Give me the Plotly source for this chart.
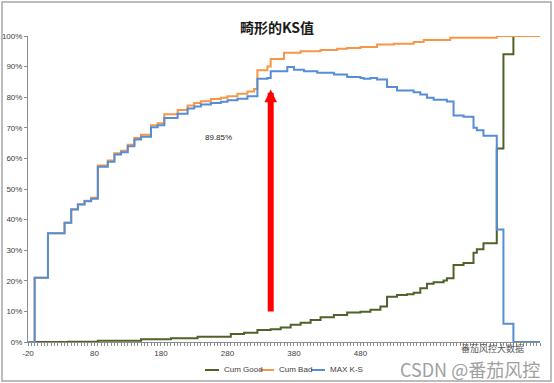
import plotly.graph_objects as go

# ---- data (score bins, cumulative %) ----
good_x = [-20, 40, 85, 150, 195, 235, 285, 305, 325, 345, 360, 375, 390, 405, 420, 440, 460, 480, 495, 510,
          520, 535, 550, 560, 570, 580, 590, 605, 610, 620, 635, 650, 655, 665, 685, 695, 710, 750]
good_y = [0, 0.1, 0.4, 0.9, 1.2, 1.7, 2.6, 3.0, 3.9, 4.2, 4.7, 5.6, 6.3, 7.2, 8.1, 8.8, 9.6, 9.9, 10.5, 11.6,
          14.8, 15.4, 15.6, 16.1, 17.6, 19.0, 19.5, 20.1, 20.8, 25.2, 25.8, 29.2, 30.3, 32.3, 63.2, 94.0, 100, 100]

bad_x = [-20, -10, 10, 35, 45, 55, 65, 75, 85, 100, 110, 120, 130, 140, 150, 165, 175, 185, 205, 220,
         230, 240, 255, 270, 280, 295, 310, 320, 325, 340, 345, 365, 390, 420, 445, 460, 480, 505, 530, 560,
         575, 615, 685, 750]
bad_y = [0, 21, 35.5, 39, 43.4, 45.0, 46.2, 47.1, 57.7, 59.3, 61.7, 62.5, 64.5, 66.7, 67.7, 70.8, 71.5, 74.4, 75.8, 77.3,
         78.1, 78.7, 79.4, 79.8, 80.3, 81.1, 81.9, 82.7, 88.8, 90.0, 92.5, 94.5, 95.0, 95.4, 95.8, 96.1, 96.4, 97.2, 97.5, 98.0,
         98.7, 99.4, 100, 100]

ks_x = [-20, -10, 10, 35, 45, 55, 65, 75, 85, 100, 110, 120, 130, 140, 150, 165, 175, 185, 205, 220,
        230, 240, 255, 270, 280, 295, 310, 325, 340, 345, 370, 380, 395, 415, 440, 460, 480, 485, 495, 505,
        520, 535, 560, 570, 580, 590, 610, 620, 635, 650, 655, 665, 685, 695, 710, 750]
ks_y = [0, 21, 35.5, 39, 43.3, 44.9, 46, 46.8, 57.3, 58.9, 61.3, 62, 64, 66.2, 67.1, 70.2, 70.8, 73.2, 74.6, 76.3,
        77, 77.6, 78.1, 78.5, 79, 79.5, 80.3, 86.0, 86.3, 88.5, 89.85, 89.0, 88.5, 88.0, 87.4, 86.6, 86.3, 86.0, 86.3, 85.8,
        83.3, 82.2, 81.6, 80.9, 79.8, 79.2, 78.6, 74.0, 73.6, 70.0, 69.2, 67.4, 36.8, 6.0, 0, 0]

series_names = ["Cum Good", "Cum Bad", "MAX K-S"]
series_colors = ["#4F6228", "#F79646", "#558ED5"]

x_tick_vals = [-20, 80, 180, 280, 380, 480]
y_tick_vals = [0, 10, 20, 30, 40, 50, 60, 70, 80, 90, 100]

ks_max_label = "89.85%"
ks_label_pos = (266, 66.8)
arrow_x, arrow_tail, arrow_tip = 345, 9.5, 82.5

FONT = "Liberation Sans"
W, H = 554, 383
ML, MR, MT, MB = 28, 14, 36, 41
PW, PH = W - ML - MR, H - MT - MB


def px_x(p):
    return (p - ML) / PW


def px_y(p):
    return (H - MB - p) / PH


fig = go.Figure()
for xs, ys, nm, col in zip([good_x, bad_x, ks_x], [good_y, bad_y, ks_y], series_names, series_colors):
    fig.add_trace(go.Scatter(x=xs, y=ys, mode="lines", name=nm, showlegend=False,
                             line=dict(color=col, width=2, shape="hv")))

fig.add_annotation(x=ks_label_pos[0], y=ks_label_pos[1], text=ks_max_label, showarrow=False,
                   xanchor="center", yanchor="middle",
                   font=dict(family=FONT, size=8, color="#262626"))
fig.add_annotation(x=arrow_x, y=arrow_tip, ax=arrow_x, ay=arrow_tail, axref="x", ayref="y",
                   text="", showarrow=True, arrowhead=2, arrowsize=0.42, arrowwidth=6,
                   arrowcolor="#FF0000")

# legend (drawn compactly like the Excel legend)
leg_starts = [205, 260, 311]
for s, nm, col in zip(leg_starts, series_names, series_colors):
    fig.add_shape(type="line", xref="paper", yref="paper", x0=px_x(s), x1=px_x(s + 14),
                  y0=px_y(370), y1=px_y(370), line=dict(color=col, width=2))
    fig.add_annotation(xref="paper", yref="paper", x=px_x(s + 17), y=px_y(370), text=nm,
                       xanchor="left", yanchor="middle", showarrow=False,
                       font=dict(family=FONT, size=8, color="#404040"))

# watermark
fig.add_annotation(xref="paper", yref="paper", x=px_x(492), y=px_y(348), text="番茄风控大数据",
                   xanchor="center", yanchor="middle",
                   showarrow=False, font=dict(family="Noto Sans CJK SC", size=9, color="#555555"))
fig.add_annotation(xref="paper", yref="paper", x=px_x(470), y=px_y(369), text="CSDN @番茄风控",
                   xanchor="center", yanchor="middle",
                   showarrow=False, font=dict(family="Noto Sans CJK SC", size=18, color="#A0A0A0"))

# chart border
fig.add_shape(type="rect", xref="paper", yref="paper", x0=px_x(2), x1=px_x(551), y0=px_y(381), y1=px_y(2),
              line=dict(color="#A6A6A6", width=1.5))

fig.update_layout(
    width=W, height=H,
    margin=dict(l=ML, r=MR, t=MT, b=MB),
    paper_bgcolor="white", plot_bgcolor="white",
    title=dict(text="<b>畸形的KS值</b>", x=0.5, xanchor="center", y=1 - 28 / H, yanchor="middle",
               font=dict(family="Noto Sans CJK SC", size=14, color="#1a1a1a")),
    showlegend=False,
    xaxis=dict(range=[-20, 750], tickvals=x_tick_vals, ticktext=[str(v) for v in x_tick_vals],
               automargin=False,
               showgrid=False, zeroline=False, showline=True, linecolor="#8C8C8C", linewidth=1,
               ticks="outside", ticklen=3, tickcolor="#8C8C8C", tickwidth=1.2,
               minor=dict(dtick=5, tick0=-20, ticks="outside", ticklen=3, tickcolor="#8C8C8C", tickwidth=1.2),
               tickfont=dict(family=FONT, size=8, color="#404040")),
    yaxis=dict(range=[0, 100], tickvals=y_tick_vals, ticktext=[f"{v}%" for v in y_tick_vals],
               automargin=False,
               showgrid=False, zeroline=False, showline=True, linecolor="#8C8C8C", linewidth=1,
               ticks="outside", ticklen=3, tickcolor="#8C8C8C",
               tickfont=dict(family=FONT, size=8, color="#404040")),
)

fig.write_html("out.html", config={"displayModeBar": False},
               post_script="document.body.style.margin='0';document.body.style.padding='0';")
